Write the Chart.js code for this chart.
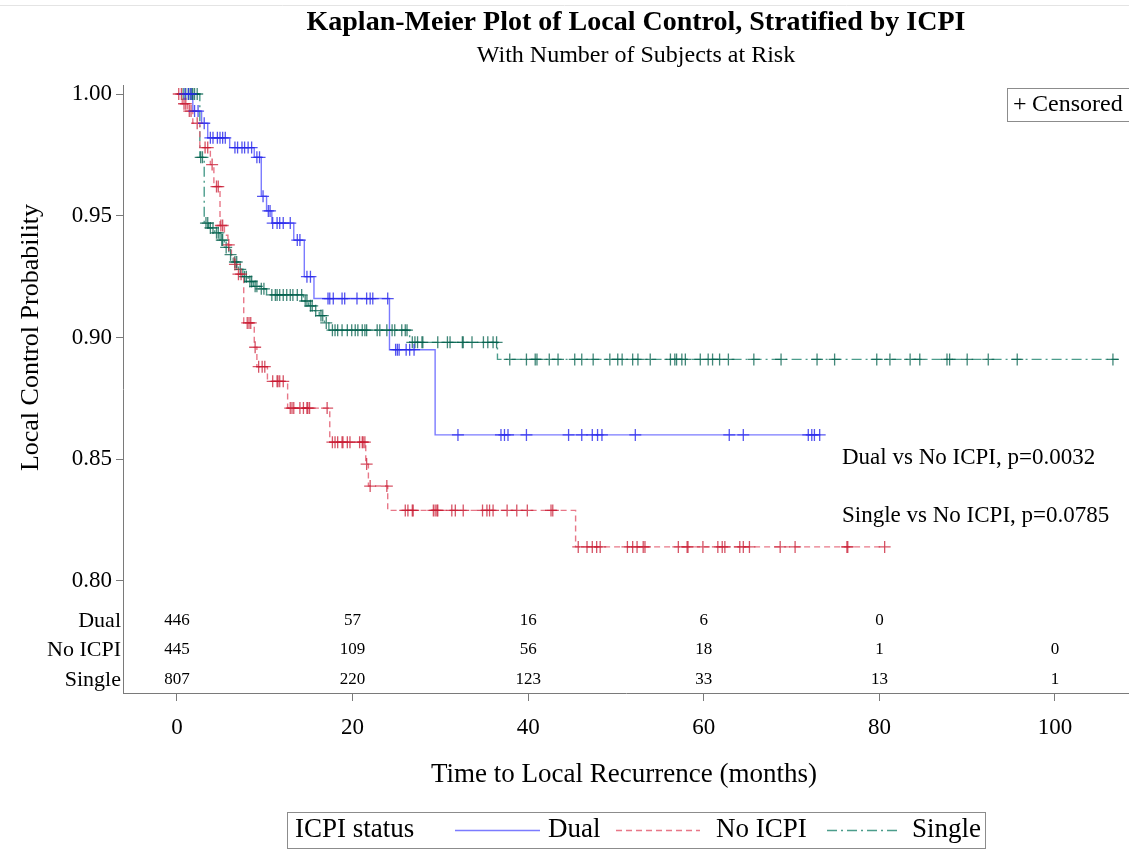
<!DOCTYPE html>
<html>
<head>
<meta charset="utf-8">
<title>Kaplan-Meier Plot of Local Control</title>
<script src="https://cdn.jsdelivr.net/npm/chart.js@4.4.1/dist/chart.umd.min.js"></script>
<style>
    html, body { margin: 0; padding: 0; background: #fff; }
    canvas { display: block; }
</style>
</head>
<body>
<canvas id="kmChart" width="1129" height="849" style="width:1129px;height:849px"></canvas>
<script>
// Kaplan-Meier steps: event times (months) and survival after each event
const dualTime = [0, 1.8, 2.8, 3.5, 6.0, 8.8, 9.6, 10.2, 10.8, 13.3, 14.5, 15.6, 24.2, 29.4];
const dualSurv = [1.000, 0.993, 0.988, 0.982, 0.978, 0.974, 0.958, 0.952, 0.947, 0.940, 0.925, 0.916, 0.895, 0.860];
const dualLast = 73.2;
const dualCensored = [0.9, 1.3, 1.6, 2.0, 2.4, 3.1, 3.8, 4.1, 4.6, 4.9, 5.2, 5.5, 6.6, 6.9, 7.4, 7.7, 8.1, 8.5,
    9.1, 9.4, 9.8, 10.4, 10.6, 10.9, 11.4, 11.7, 12.1, 12.9, 13.7, 14.0, 14.8, 15.2, 17.2, 17.4, 17.8, 18.8,
    19.1, 20.5, 21.6, 22.0, 22.3, 24.0, 24.9, 25.1, 25.3, 26.1, 26.5, 27.0, 32.0, 36.9, 37.3, 37.7, 39.8,
    44.6, 46.1, 47.3, 47.9, 48.4, 52.2, 62.9, 64.5, 71.9, 72.3, 72.6, 73.2];

const noTime = [0, 0.6, 1.2, 1.8, 2.6, 3.8, 4.2, 4.9, 5.4, 5.8, 6.2, 6.5, 6.8, 7.6, 8.8, 9.1, 10.3, 12.6,
    17.4, 21.5, 21.8, 24.0, 45.4];
const noSurv = [1.000, 0.996, 0.993, 0.988, 0.978, 0.971, 0.962, 0.946, 0.942, 0.938, 0.934, 0.930, 0.926,
    0.906, 0.896, 0.888, 0.882, 0.871, 0.857, 0.848, 0.839, 0.829, 0.814];
const noLast = 80.6;
const noCensored = [0.2, 0.5, 0.8, 1.0, 1.4, 1.6, 2.3, 3.2, 3.5, 4.0, 4.5, 4.7, 5.0, 5.2, 5.9, 6.6, 7.0, 7.3,
    8.0, 8.2, 8.4, 8.9, 9.3, 9.7, 10.0, 10.9, 11.4, 11.5, 11.7, 12.1, 12.9, 13.1, 13.3, 14.0, 14.4, 14.8,
    14.9, 15.1, 17.1, 17.7, 18.0, 18.3, 18.8, 18.9, 19.4, 19.7, 20.8, 21.1, 21.2, 21.4, 21.6, 22.0, 23.9,
    26.0, 26.3, 26.8, 26.9, 29.2, 29.4, 29.6, 29.7, 31.3, 31.7, 32.6, 34.8, 35.3, 35.6, 36.0, 37.6, 38.7,
    39.9, 42.6, 42.8, 45.7, 46.7, 47.3, 47.8, 48.2, 51.3, 51.9, 52.4, 53.1, 53.3, 57.1, 58.1, 58.2, 59.9,
    61.6, 62.1, 62.4, 64.1, 64.5, 65.2, 68.7, 70.4, 76.3, 76.4, 80.6];

const singleTime = [0, 2.6, 3.1, 3.6, 4.3, 4.9, 5.4, 5.9, 6.4, 7.0, 7.5, 8.1, 8.7, 9.4, 10.2, 14.4, 15.0,
    15.6, 16.2, 16.8, 17.3, 26.5, 36.5];
const singleSurv = [1.000, 0.974, 0.947, 0.945, 0.943, 0.940, 0.937, 0.934, 0.931, 0.928, 0.925, 0.923,
    0.921, 0.920, 0.9175, 0.915, 0.913, 0.911, 0.909, 0.906, 0.903, 0.898, 0.891];
const singleLast = 107.2;
const singleCensored = [0.7, 1.0, 1.3, 1.5, 1.7, 1.8, 2.0, 2.3, 2.7, 2.9, 3.3, 3.5, 3.8, 4.1, 4.5, 4.7,
    5.1, 5.2, 5.6, 6.1, 6.6, 6.8, 7.2, 7.7, 7.9, 8.3, 8.5, 8.9, 9.1, 9.6, 9.9, 10.8, 11.2, 11.4, 11.7,
    12.1, 12.5, 12.9, 13.2, 13.7, 14.2, 14.6, 14.8, 15.2, 15.4, 15.8, 16.4, 16.6, 17.0, 17.7, 18.0, 18.3,
    18.8, 19.4, 19.9, 20.3, 20.6, 21.1, 21.4, 21.6, 22.8, 23.1, 23.9, 24.5, 24.8, 25.6, 26.0, 26.2, 26.8,
    27.1, 27.4, 27.9, 28.0, 29.7, 30.8, 31.1, 32.5, 32.6, 33.6, 34.9, 35.4, 36.0, 36.4, 37.9, 39.8, 40.8,
    41.0, 42.4, 43.4, 45.3, 46.1, 47.4, 49.3, 50.2, 50.7, 51.9, 52.5, 53.9, 56.2, 56.7, 56.9, 57.5, 57.9,
    59.6, 60.5, 61.0, 61.8, 62.8, 65.7, 68.8, 72.9, 74.9, 79.7, 81.2, 83.5, 84.6, 87.7, 88.0, 90.0, 92.4,
    95.7, 106.6];

// Number of subjects at risk
const riskTimes = [0, 20, 40, 60, 80, 100];
const riskGroups = ['Dual', 'No ICPI', 'Single'];
const dualAtRisk = [446, 57, 16, 6, 0];
const noAtRisk = [445, 109, 56, 18, 1, 0];
const singleAtRisk = [807, 220, 123, 33, 13, 1];

const xTicks = [0, 20, 40, 60, 80, 100];
const yTicks = [0.80, 0.85, 0.90, 0.95, 1.00];
const pValueLabels = ['Dual vs No ICPI, p=0.0032', 'Single vs No ICPI, p=0.0785'];

const SERIF = "'Liberation Serif', 'Times New Roman', serif";

const groups = [
    { name: 'Dual', times: dualTime, surv: dualSurv, last: dualLast, censored: dualCensored,
      line: 'rgba(100,100,255,0.85)', mark: 'rgba(40,40,235,0.8)', dash: [] },
    { name: 'No ICPI', times: noTime, surv: noSurv, last: noLast, censored: noCensored,
      line: 'rgba(228,95,115,0.85)', mark: 'rgba(200,25,50,0.75)', dash: [6, 4] },
    { name: 'Single', times: singleTime, surv: singleSurv, last: singleLast, censored: singleCensored,
      line: 'rgba(45,140,120,0.85)', mark: 'rgba(0,95,75,0.75)', dash: [10, 4, 2, 4] }
];

// survival value of the step in force at time t
function survAt(times, surv, t) {
    let s = surv[0];
    for (let i = 0; i < times.length; i++) {
        if (times[i] <= t) s = surv[i];
    }
    return s;
}

const datasets = [];
groups.forEach(g => {
    const pts = g.times.map((t, i) => ({ x: t, y: g.surv[i] }));
    pts.push({ x: g.last, y: g.surv[g.surv.length - 1] });
    datasets.push({
        label: g.name,
        data: pts,
        showLine: true,
        stepped: true,
        borderColor: g.line,
        borderWidth: 1.4,
        borderDash: g.dash,
        pointRadius: 0,
        order: 2
    });
    datasets.push({
        label: g.name + ' censored',
        data: g.censored.map(t => ({ x: t, y: survAt(g.times, g.surv, t) })),
        showLine: false,
        pointStyle: 'cross',
        pointRadius: 6,
        borderColor: g.mark,
        borderWidth: 1.3,
        order: 1
    });
});

// Titles, risk table, inset legends and p-values
const annotations = {
    id: 'annotations',
    beforeDraw(chart) {
        const ctx = chart.ctx;
        ctx.save();
        ctx.fillStyle = '#fff';
        ctx.fillRect(0, 0, chart.width, chart.height);
        ctx.strokeStyle = '#e4e4e4';
        ctx.lineWidth = 1;
        ctx.beginPath();
        ctx.moveTo(0, 5.5);
        ctx.lineTo(chart.width, 5.5);
        ctx.stroke();
        ctx.restore();
    },
    afterDraw(chart) {
        const ctx = chart.ctx;
        const xs = chart.scales.x;
        const ys = chart.scales.y;
        ctx.save();
        ctx.fillStyle = '#000';
        ctx.textBaseline = 'middle';

        // title and subtitle
        ctx.textAlign = 'center';
        ctx.font = 'bold 28px ' + SERIF;
        ctx.fillText('Kaplan-Meier Plot of Local Control, Stratified by ICPI', 636, 23);
        ctx.font = '24px ' + SERIF;
        ctx.fillText('With Number of Subjects at Risk', 636, 56);

        // axis titles
        ctx.font = '27px ' + SERIF;
        ctx.fillText('Time to Local Recurrence (months)', 624, 775);
        ctx.save();
        ctx.font = '26px ' + SERIF;
        ctx.translate(31, (ys.getPixelForValue(0.8) + ys.getPixelForValue(1.0)) / 2);
        ctx.rotate(-Math.PI / 2);
        ctx.fillText('Local Control Probability', 0, 0);
        ctx.restore();

        // at-risk table
        const rows = [dualAtRisk, noAtRisk, singleAtRisk];
        const rowY = [621, 650, 680];
        rows.forEach((vals, r) => {
            ctx.textAlign = 'right';
            ctx.font = '22px ' + SERIF;
            ctx.fillText(riskGroups[r], 121, rowY[r]);
            ctx.textAlign = 'center';
            ctx.font = '17px ' + SERIF;
            vals.forEach((n, i) => {
                ctx.fillText(String(n), xs.getPixelForValue(riskTimes[i]), rowY[r]);
            });
        });

        // p-values
        ctx.textAlign = 'left';
        ctx.font = '23px ' + SERIF;
        ctx.fillText(pValueLabels[0], 842, 458);
        ctx.fillText(pValueLabels[1], 842, 516);

        // censored key
        ctx.strokeStyle = '#8c8c8c';
        ctx.lineWidth = 1;
        ctx.strokeRect(1007.5, 88.5, 130, 33);
        ctx.font = '24px ' + SERIF;
        ctx.fillText('+', 1013, 105);
        ctx.fillText('Censored', 1032, 105);

        // group legend
        ctx.strokeRect(287.5, 812.5, 698, 36);
        ctx.font = '27px ' + SERIF;
        ctx.fillText('ICPI status', 295, 830);
        const keys = [
            { x0: 455, x1: 540, tx: 548 },
            { x0: 616, x1: 700, tx: 716 },
            { x0: 827, x1: 900, tx: 912 }
        ];
        groups.forEach((g, i) => {
            const k = keys[i];
            ctx.save();
            ctx.strokeStyle = g.line;
            ctx.lineWidth = 1.4;
            ctx.setLineDash(g.dash);
            ctx.beginPath();
            ctx.moveTo(k.x0, 830.5);
            ctx.lineTo(k.x1, 830.5);
            ctx.stroke();
            ctx.restore();
            ctx.fillText(g.name, k.tx, 830);
        });
        ctx.restore();
    }
};

const ctx = document.getElementById('kmChart').getContext('2d');
new Chart(ctx, {
    type: 'scatter',
    data: { datasets: datasets },
    plugins: [annotations],
    options: {
        responsive: false,
        animation: false,
        devicePixelRatio: 1,
        layout: { autoPadding: false, padding: { top: 85, left: 0, right: 0, bottom: 0 } },
        plugins: {
            legend: { display: false },
            tooltip: { enabled: false },
            title: { display: false }
        },
        scales: {
            x: {
                type: 'linear',
                min: -6.15,
                max: 108.43,
                afterFit(scale) { scale.height = 156; },
                afterBuildTicks(scale) { scale.ticks = xTicks.map(v => ({ value: v })); },
                grid: { drawOnChartArea: false, tickLength: 8, color: '#7a7a7a' },
                border: { color: '#7a7a7a', width: 1 },
                ticks: {
                    color: '#000',
                    padding: 13,
                    maxRotation: 0,
                    font: { family: SERIF, size: 23 },
                    callback: v => String(v)
                }
            },
            y: {
                type: 'linear',
                min: 0.754,
                max: 1.0037,
                afterFit(scale) { scale.width = 123; },
                afterBuildTicks(scale) { scale.ticks = yTicks.map(v => ({ value: v })); },
                grid: { drawOnChartArea: false, tickLength: 7, color: '#7a7a7a' },
                border: { color: '#7a7a7a', width: 1 },
                ticks: {
                    color: '#000',
                    padding: 4,
                    font: { family: SERIF, size: 23 },
                    callback: v => Number(v).toFixed(2)
                }
            }
        }
    }
});
</script>
</body>
</html>
